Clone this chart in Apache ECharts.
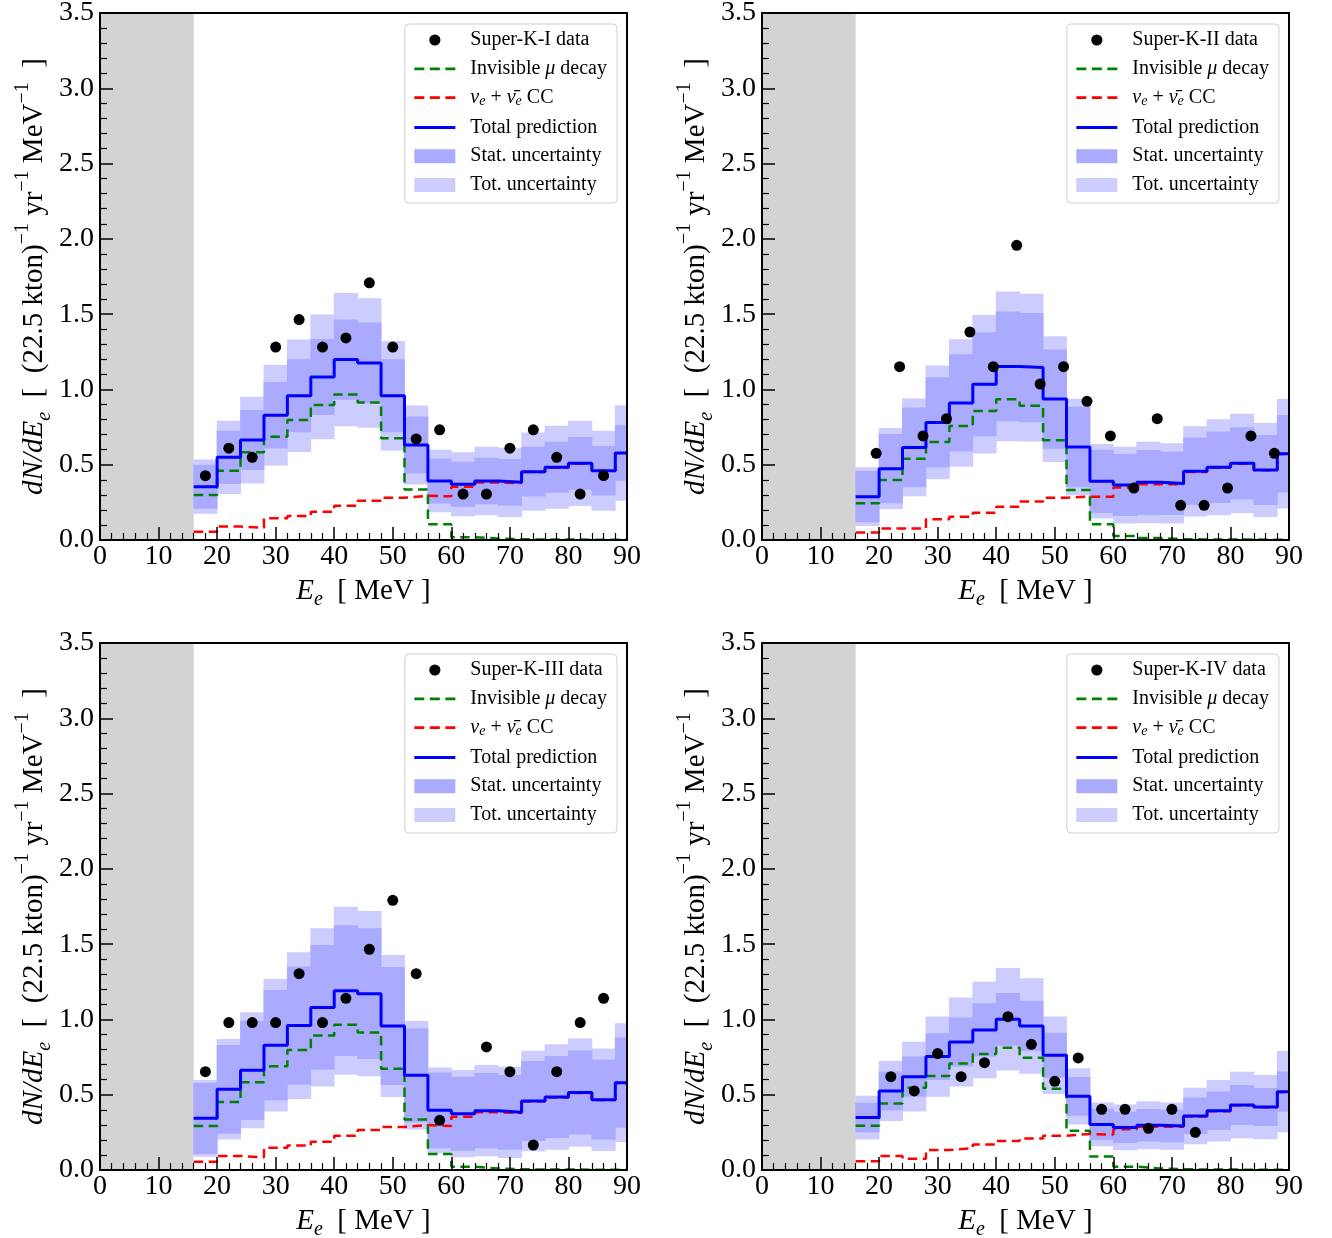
<!DOCTYPE html>
<html>
<head>
<meta charset="utf-8">
<script src="https://cdn.jsdelivr.net/npm/echarts@6/dist/echarts.min.js"></script>
<style>
  html, body { margin: 0; padding: 0; background: #fff; }
  #chart { width: 1332px; height: 1238px; }
</style>
</head>
<body>
<div id="chart"></div>
<script>
// Energy bin edges [MeV]; the last bin is cut at the axis end
const binEdges = [16, 20, 24, 28, 32, 36, 40, 44, 48, 52, 56, 60, 64, 68, 72, 76, 80, 84, 88, 90];
const thresholdMeV = 16;

// ---- Super-K-I ----
const sk1X = [18, 22, 26, 30, 34, 38, 42, 46, 50, 54, 58, 62, 66, 70, 74, 78, 82, 86];
const sk1Y = [0.427, 0.610, 0.549, 1.281, 1.464, 1.281, 1.342, 1.708, 1.281, 0.671, 0.732, 0.305, 0.305, 0.610, 0.732, 0.549, 0.305, 0.427];
const sk1Total = [0.354, 0.549, 0.664, 0.828, 0.958, 1.083, 1.198, 1.176, 0.958, 0.631, 0.392, 0.370, 0.392, 0.383, 0.454, 0.483, 0.509, 0.460, 0.578];
const sk1Mu = [0.299, 0.460, 0.582, 0.686, 0.797, 0.897, 0.967, 0.914, 0.675, 0.336, 0.104, 0.018, 0.010, 0.005, 0.003, 0.003, 0.002, 0.002, 0.002];
const sk1Cc = [0.055, 0.089, 0.082, 0.144, 0.159, 0.188, 0.228, 0.261, 0.281, 0.294, 0.290, 0.354, 0.382, 0.378, 0.451, 0.480, 0.507, 0.458, 0.576];
const sk1Stat = [0.146, 0.177, 0.199, 0.221, 0.243, 0.252, 0.266, 0.268, 0.243, 0.190, 0.150, 0.150, 0.155, 0.155, 0.165, 0.170, 0.175, 0.165, 0.185];
const sk1Tot = [0.180, 0.243, 0.288, 0.334, 0.373, 0.414, 0.443, 0.430, 0.363, 0.262, 0.208, 0.213, 0.228, 0.230, 0.260, 0.275, 0.283, 0.265, 0.317];

// ---- Super-K-II ----
const sk2X = [19.5, 23.5, 27.5, 31.5, 35.5, 39.5, 43.5, 47.5, 51.5, 55.5, 59.5, 63.5, 67.5, 71.5, 75.5, 79.5, 83.5, 87.5];
const sk2Y = [0.576, 1.151, 0.691, 0.806, 1.381, 1.151, 1.957, 1.036, 1.151, 0.921, 0.691, 0.345, 0.806, 0.230, 0.230, 0.345, 0.691, 0.576];
const sk2Total = [0.288, 0.474, 0.615, 0.781, 0.910, 1.034, 1.153, 1.145, 0.936, 0.618, 0.390, 0.365, 0.383, 0.376, 0.456, 0.483, 0.509, 0.465, 0.573];
const sk2Mu = [0.244, 0.398, 0.540, 0.651, 0.757, 0.857, 0.934, 0.892, 0.662, 0.332, 0.104, 0.027, 0.013, 0.006, 0.004, 0.003, 0.003, 0.002, 0.002];
const sk2Cc = [0.049, 0.077, 0.077, 0.137, 0.155, 0.181, 0.221, 0.255, 0.281, 0.288, 0.288, 0.348, 0.370, 0.370, 0.452, 0.480, 0.506, 0.463, 0.571];
const sk2Stat = [0.170, 0.230, 0.265, 0.300, 0.323, 0.345, 0.365, 0.363, 0.330, 0.268, 0.210, 0.206, 0.215, 0.210, 0.224, 0.237, 0.240, 0.232, 0.257];
const sk2Tot = [0.195, 0.270, 0.325, 0.378, 0.423, 0.460, 0.497, 0.490, 0.418, 0.320, 0.248, 0.255, 0.270, 0.266, 0.300, 0.319, 0.330, 0.312, 0.363];

// ---- Super-K-III ----
const sk3X = [18, 22, 26, 30, 34, 38, 42, 46, 50, 54, 58, 66, 70, 74, 78, 82, 86];
const sk3Y = [0.653, 0.979, 0.979, 0.979, 1.304, 0.979, 1.140, 1.466, 1.791, 1.304, 0.330, 0.817, 0.653, 0.166, 0.653, 0.979, 1.140];
const sk3Total = [0.343, 0.536, 0.662, 0.828, 0.959, 1.080, 1.191, 1.171, 0.956, 0.629, 0.396, 0.374, 0.394, 0.383, 0.458, 0.485, 0.514, 0.467, 0.580];
const sk3Mu = [0.292, 0.452, 0.582, 0.689, 0.797, 0.894, 0.965, 0.914, 0.673, 0.336, 0.106, 0.022, 0.010, 0.005, 0.003, 0.003, 0.002, 0.002, 0.002];
const sk3Cc = [0.055, 0.093, 0.084, 0.148, 0.162, 0.188, 0.228, 0.266, 0.286, 0.299, 0.292, 0.354, 0.384, 0.378, 0.455, 0.482, 0.512, 0.465, 0.578];
const sk3Stat = [0.237, 0.295, 0.330, 0.367, 0.392, 0.414, 0.434, 0.434, 0.392, 0.312, 0.252, 0.246, 0.250, 0.248, 0.266, 0.272, 0.279, 0.266, 0.300];
const sk3Tot = [0.255, 0.334, 0.385, 0.440, 0.487, 0.525, 0.558, 0.549, 0.472, 0.360, 0.285, 0.290, 0.303, 0.303, 0.334, 0.350, 0.360, 0.340, 0.394];

// ---- Super-K-IV ----
const sk4X = [22, 26, 30, 34, 38, 42, 46, 50, 54, 58, 62, 66, 70, 74];
const sk4Y = [0.620, 0.525, 0.773, 0.620, 0.713, 1.018, 0.835, 0.589, 0.744, 0.403, 0.403, 0.277, 0.403, 0.250];
const sk4Total = [0.348, 0.525, 0.620, 0.753, 0.850, 0.930, 1.001, 0.956, 0.762, 0.489, 0.303, 0.283, 0.297, 0.292, 0.359, 0.394, 0.432, 0.418, 0.520];
const sk4Mu = [0.294, 0.441, 0.547, 0.624, 0.708, 0.770, 0.812, 0.746, 0.540, 0.261, 0.089, 0.022, 0.010, 0.005, 0.003, 0.003, 0.002, 0.002, 0.002];
const sk4Cc = [0.058, 0.093, 0.075, 0.133, 0.146, 0.170, 0.193, 0.210, 0.228, 0.239, 0.235, 0.270, 0.287, 0.287, 0.356, 0.391, 0.430, 0.416, 0.518];
const sk4Stat = [0.098, 0.130, 0.133, 0.155, 0.162, 0.177, 0.175, 0.168, 0.150, 0.128, 0.104, 0.104, 0.108, 0.108, 0.122, 0.128, 0.133, 0.126, 0.133];
const sk4Tot = [0.145, 0.200, 0.232, 0.266, 0.295, 0.320, 0.340, 0.317, 0.257, 0.186, 0.146, 0.152, 0.160, 0.157, 0.188, 0.204, 0.221, 0.213, 0.270];

// Axis ticks
const xTickValues = [0, 10, 20, 30, 40, 50, 60, 70, 80, 90];
const yTickValues = [0.0, 0.5, 1.0, 1.5, 2.0, 2.5, 3.0, 3.5];

const panels = [
  { label: 'Super-K-I data',   x: sk1X, y: sk1Y, total: sk1Total, mu: sk1Mu, cc: sk1Cc, stat: sk1Stat, tot: sk1Tot },
  { label: 'Super-K-II data',  x: sk2X, y: sk2Y, total: sk2Total, mu: sk2Mu, cc: sk2Cc, stat: sk2Stat, tot: sk2Tot },
  { label: 'Super-K-III data', x: sk3X, y: sk3Y, total: sk3Total, mu: sk3Mu, cc: sk3Cc, stat: sk3Stat, tot: sk3Tot },
  { label: 'Super-K-IV data',  x: sk4X, y: sk4Y, total: sk4Total, mu: sk4Mu, cc: sk4Cc, stat: sk4Stat, tot: sk4Tot }
];

// ---- styling / layout ----
const FONT = '"Liberation Serif", "Times New Roman", serif';
const W = 1332;
const PLOT = 527;
const boxes = [
  { left: 100, top: 13 }, { left: 762, top: 13 },
  { left: 100, top: 643 }, { left: 762, top: 643 }
];
const C_STAT = '#aaaaff', C_TOT = '#ccccff';
const C_MU = '#008000', C_CC = '#ff0000', C_TOTAL = '#0000ff';
const DASH = [9.5, 5.5];
const LEGEND_DASH = [10, 5.5];
// small dot inside a 14x14 box (the two moves fix the box)
const DOT_ICON = 'path://M0 0M14 14M12.6 7A5.6 5.6 0 1 1 1.4 7A5.6 5.6 0 1 1 12.6 7Z';

const NAME_MU = 'Invisible mu decay';
const NAME_CC = 'nue CC';
const NAME_TOTAL = 'Total prediction';
const NAME_STAT = 'Stat. uncertainty';
const NAME_TOT = 'Tot. uncertainty';

const legendRich = {
  g: { width: 10, fontSize: 20, fontFamily: FONT, lineHeight: 22 },
  t: { fontSize: 20, fontFamily: FONT, color: '#000', lineHeight: 22 },
  it: { fontSize: 20, fontFamily: FONT, fontStyle: 'italic', color: '#000', lineHeight: 22 },
  s: { fontSize: 14, fontFamily: FONT, fontStyle: 'italic', color: '#000', lineHeight: 6, verticalAlign: 'bottom' }
};
const legendText = {
  [NAME_MU]: '{g| }{t|Invisible }{it|μ}{t| decay}',
  [NAME_CC]: '{g| }{it|ν}{s|e}{t| + }{it|ν̄}{s|e}{t| CC}',
  [NAME_TOTAL]: '{g| }{t|Total prediction}',
  [NAME_STAT]: '{g| }{t|Stat. uncertainty}',
  [NAME_TOT]: '{g| }{t|Tot. uncertainty}'
};

function stepPoints(vals) {
  return binEdges.map((x, i) => [x, vals[Math.min(i, vals.length - 1)]]);
}
function bandRows(center, err) {
  return center.map((c, i) => [binEdges[i], binEdges[i + 1], c - err[i], c + err[i]]);
}
function renderBand(params, api) {
  const lo = api.coord([api.value(0), api.value(2)]);
  const hi = api.coord([api.value(1), api.value(3)]);
  return {
    type: 'rect',
    shape: { x: lo[0] - 0.4, y: hi[1], width: hi[0] - lo[0] + 0.8, height: lo[1] - hi[1] },
    style: { fill: api.visual('color') }
  };
}

const grid = [], xAxis = [], yAxis = [], series = [], legend = [];
const axisLabelStyle = { fontFamily: FONT, fontSize: 28, color: '#000' };

boxes.forEach((b) => {
  grid.push({ left: b.left, top: b.top, width: PLOT, height: PLOT, containLabel: false, outerBoundsMode: 'none' });
});

// bottom / left axes with ticks and labels
boxes.forEach((b, p) => {
  xAxis.push({
    gridIndex: p, type: 'value', min: xTickValues[0], max: xTickValues[xTickValues.length - 1], interval: 10,
    position: 'bottom', z: 5,
    axisLine: { show: true, onZero: false, lineStyle: { color: '#000', width: 2 } },
    axisTick: { show: true, inside: true, length: 13, lineStyle: { color: '#000', width: 1.5 } },
    minorTick: { show: true, splitNumber: 5, length: 7, lineStyle: { color: '#000', width: 1.2 } },
    axisLabel: { ...axisLabelStyle, margin: 3, showMinLabel: true, showMaxLabel: true, hideOverlap: false },
    splitLine: { show: false },
    name: '{it|E}{sub|e}{n|  [ MeV ]}',
    nameLocation: 'middle', nameGap: 32,
    nameTextStyle: {
      rich: {
        it: { fontFamily: FONT, fontSize: 29, fontStyle: 'italic', color: '#000', lineHeight: 38 },
        n: { fontFamily: FONT, fontSize: 29, color: '#000', lineHeight: 38 },
        sub: { fontFamily: FONT, fontSize: 20, fontStyle: 'italic', color: '#000', lineHeight: 16, verticalAlign: 'bottom' }
      }
    }
  });
  yAxis.push({
    gridIndex: p, type: 'value', min: yTickValues[0], max: yTickValues[yTickValues.length - 1], interval: 0.5,
    position: 'left', z: 5,
    axisLine: { show: true, onZero: false, lineStyle: { color: '#000', width: 2 } },
    axisTick: { show: true, inside: true, length: 13, lineStyle: { color: '#000', width: 1.5 } },
    minorTick: { show: true, splitNumber: 5, length: 7, lineStyle: { color: '#000', width: 1.2 } },
    axisLabel: { ...axisLabelStyle, margin: 6, formatter: v => v.toFixed(1), showMinLabel: true, showMaxLabel: true, hideOverlap: false },
    splitLine: { show: false },
    name: '{it|dN/dE}{sub|e}{n|  [  (22.5 kton)}{sup|−1}{n| yr}{sup|−1}{n| MeV}{sup|−1}{n|  ]}',
    nameLocation: 'middle', nameRotate: 90, nameGap: 42,
    nameTextStyle: {
      rich: {
        it: { fontFamily: FONT, fontSize: 29, fontStyle: 'italic', color: '#000', lineHeight: 42 },
        n: { fontFamily: FONT, fontSize: 29, color: '#000', lineHeight: 42 },
        sub: { fontFamily: FONT, fontSize: 20, fontStyle: 'italic', color: '#000', lineHeight: 20, verticalAlign: 'bottom' },
        sup: { fontFamily: FONT, fontSize: 20, color: '#000', lineHeight: 20, verticalAlign: 'top' }
      }
    }
  });
});
// top / right frame lines
boxes.forEach((b, p) => {
  xAxis.push({
    gridIndex: p, type: 'value', min: 0, max: 90, position: 'top', z: 5,
    axisLine: { show: true, onZero: false, lineStyle: { color: '#000', width: 2 } },
    axisTick: { show: false }, axisLabel: { show: false }, splitLine: { show: false }
  });
  yAxis.push({
    gridIndex: p, type: 'value', min: 0, max: 3.5, position: 'right', z: 5,
    axisLine: { show: true, onZero: false, lineStyle: { color: '#000', width: 2 } },
    axisTick: { show: false }, axisLabel: { show: false }, splitLine: { show: false }
  });
});

panels.forEach((pd, p) => {
  const ax = { xAxisIndex: p, yAxisIndex: p };
  series.push({
    ...ax, type: 'custom', name: NAME_TOT, clip: true, z: 1,
    itemStyle: { color: C_TOT },
    renderItem: renderBand,
    encode: { x: [0, 1], y: [2, 3] },
    data: bandRows(pd.total, pd.tot),
    markArea: {
      silent: true,
      itemStyle: { color: '#d3d3d3' },
      data: [[{ xAxis: 0 }, { xAxis: thresholdMeV }]]
    }
  });
  series.push({
    ...ax, type: 'custom', name: NAME_STAT, clip: true, z: 1,
    itemStyle: { color: C_STAT },
    renderItem: renderBand,
    encode: { x: [0, 1], y: [2, 3] },
    data: bandRows(pd.total, pd.stat)
  });
  series.push({
    ...ax, type: 'line', name: NAME_MU, step: 'end', symbol: 'none', showSymbol: false, z: 2,
    itemStyle: { color: C_MU },
    lineStyle: { color: C_MU, width: 2.5, type: DASH },
    data: stepPoints(pd.mu)
  });
  series.push({
    ...ax, type: 'line', name: NAME_CC, step: 'end', symbol: 'none', showSymbol: false, z: 2,
    itemStyle: { color: C_CC },
    lineStyle: { color: C_CC, width: 2.5, type: DASH },
    data: stepPoints(pd.cc)
  });
  series.push({
    ...ax, type: 'line', name: NAME_TOTAL, step: 'end', symbol: 'none', showSymbol: false, z: 3,
    itemStyle: { color: C_TOTAL },
    lineStyle: { color: C_TOTAL, width: 3 },
    data: stepPoints(pd.total)
  });
  series.push({
    ...ax, type: 'scatter', name: pd.label, symbol: 'circle', symbolSize: 11, z: 4,
    itemStyle: { color: '#000', opacity: 1 },
    data: pd.x.map((x, i) => [x, pd.y[i]])
  });

  const b = boxes[p];
  const lineItem = (name, color, width, type) => ({
    name, icon: 'inherit', itemStyle: { opacity: 0 },
    lineStyle: { color, width, type, opacity: 1 }
  });
  legend.push({
    orient: 'vertical',
    right: W - (b.left + PLOT) + 10,
    top: b.top + 11,
    itemWidth: 41, itemHeight: 14, itemGap: 8.8,
    symbolKeepAspect: true,
    backgroundColor: '#fff', borderColor: '#d0d0d0', borderWidth: 1, borderRadius: 4,
    padding: [6, 10, 8, 8],
    selectedMode: false,
    data: [
      { name: pd.label, icon: DOT_ICON, itemStyle: { opacity: 1, color: '#000' } },
      lineItem(NAME_MU, C_MU, 2.8, LEGEND_DASH),
      lineItem(NAME_CC, C_CC, 2.8, LEGEND_DASH),
      lineItem(NAME_TOTAL, C_TOTAL, 3, 'solid'),
      { name: NAME_STAT, icon: 'rect' },
      { name: NAME_TOT, icon: 'rect' }
    ],
    formatter: name => legendText[name] || ('{g| }{t|' + name + '}'),
    textStyle: { fontFamily: FONT, fontSize: 20, color: '#000', rich: legendRich }
  });
});

const chart = echarts.init(document.getElementById('chart'), null, { renderer: 'canvas' });
chart.setOption({
  animation: false,
  backgroundColor: '#fff',
  grid, xAxis, yAxis, series, legend
});
</script>
</body>
</html>
